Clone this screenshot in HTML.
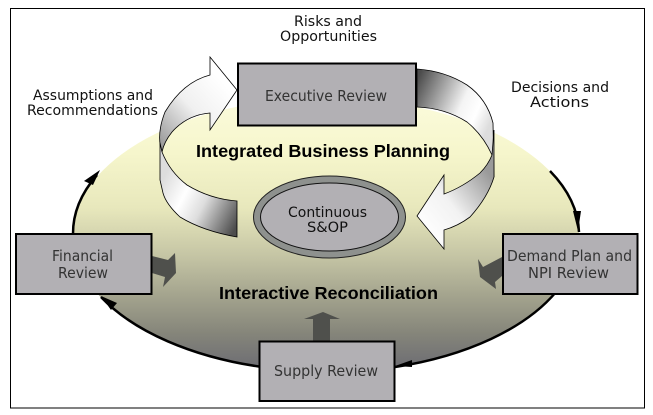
<!DOCTYPE html>
<html><head><meta charset="utf-8"><style>
html,body{margin:0;padding:0;background:#fff}
svg{display:block}
.t{font-family:"DejaVu Sans","Liberation Sans",sans-serif;font-size:14px;fill:#111}
.l{font-family:"DejaVu Sans","Liberation Sans",sans-serif;font-size:15px;fill:#333}
.b{font-family:"Liberation Sans",sans-serif;font-weight:bold;font-size:17.5px;fill:#000}
</style></head><body>
<svg width="653" height="415" viewBox="0 0 653 415" xmlns="http://www.w3.org/2000/svg">
<defs>
<linearGradient id="e" x1="0" y1="0" x2="0" y2="1">
<stop offset="0" stop-color="#fbfbdc"/><stop offset=".2" stop-color="#f6f6cc"/><stop offset=".4" stop-color="#e8e8bc"/><stop offset=".58" stop-color="#c4c4a4"/><stop offset=".72" stop-color="#a4a48e"/><stop offset=".86" stop-color="#85857a"/><stop offset="1" stop-color="#6a6a72"/>
</linearGradient>
<linearGradient id="g1" gradientUnits="userSpaceOnUse" x1="417" y1="80" x2="494" y2="115">
<stop offset="0" stop-color="#4c4c4c"/><stop offset=".6" stop-color="#f4f4f4"/><stop offset=".8" stop-color="#fff"/><stop offset="1" stop-color="#ddd"/>
</linearGradient>
<linearGradient id="g2" gradientUnits="userSpaceOnUse" x1="425" y1="235" x2="494" y2="180">
<stop offset="0" stop-color="#fff"/><stop offset=".45" stop-color="#f2f2f2"/><stop offset="1" stop-color="#9a9a9a"/>
</linearGradient>
<linearGradient id="g3" gradientUnits="userSpaceOnUse" x1="225" y1="85" x2="160" y2="145">
<stop offset="0" stop-color="#fff"/><stop offset=".45" stop-color="#f0f0f0"/><stop offset="1" stop-color="#999"/>
</linearGradient>
<linearGradient id="g4" gradientUnits="userSpaceOnUse" x1="160" y1="185" x2="237" y2="225">
<stop offset="0" stop-color="#ddd"/><stop offset=".3" stop-color="#fff"/><stop offset=".55" stop-color="#ddd"/><stop offset="1" stop-color="#4c4c4c"/>
</linearGradient>
</defs>
<rect width="653" height="415" fill="#fff"/>
<rect x="10.5" y="8.5" width="634" height="399.5" fill="#fff" stroke="#000" stroke-width="1"/>
<ellipse cx="326" cy="235" rx="253" ry="137" fill="url(#e)"/>

<!-- black perimeter arcs -->
<g fill="none" stroke="#000" stroke-width="2.5">
<path d="M73 234 A253 137 0 0 1 97 175"/>
<path d="M101 297 A253 137 0 0 0 262 367"/>
<path d="M395 367 A253 137 0 0 0 556 292"/>
<path d="M550 171 A253 137 0 0 1 579 232"/>
</g>
<g fill="#000">
<polygon points="100,170 93,185 84,181"/>
<polygon points="101,296 117,303 111,310"/>
<polygon points="395,366 412,360 412,367"/>
<polygon points="578,231 573,211 581,211"/>
</g>

<!-- right curved arrow -->
<path d="M417 69 Q445 71 467 85 Q487 99 493 123 L494 177 L492 155 Q483 135 467 122 Q445 108 417 107 Z" fill="url(#g1)" stroke="#000" stroke-width=".8"/>
<path d="M492 155 L494 130 L494 177 Q488 197 470 217 Q458 226 444 230 L444 249 L417 216 L444 175 L444 194 Q463 187 480 173 Q488 165 492 155 Z" fill="url(#g2)" stroke="#000" stroke-width=".8"/>

<!-- left curved arrow -->
<path d="M162 152 Q156 135 165 112 Q183 82 210 75 L210 57 L237 90 L210 130 L210 113 Q187 115 172 132 Q164 142 162 152 Z" fill="url(#g3)" stroke="#000" stroke-width=".8"/>
<path d="M160 143 L162 152 Q170 172 187 185 Q210 199 237 201 L237 237 Q203 231 180 217 Q166 204 163 193 L160 180 Z" fill="url(#g4)" stroke="#000" stroke-width=".8"/>

<!-- central ellipse -->
<ellipse cx="329.5" cy="217" rx="76" ry="41" fill="#8e918e" stroke="#222" stroke-width="1"/>
<ellipse cx="329.5" cy="217" rx="69" ry="34" fill="#b2b0b4" stroke="#111" stroke-width="1"/>

<!-- small block arrows -->
<polygon points="152,256 168,260 175,253 176,273 163,287 165,277 152,273" fill="#4f504c"/>
<polygon points="502,257 483,267 478,259 480,277 496,289 495,282 502,276" fill="#4f504c"/>
<polygon points="313,341 313,319 304,319 323,312 340,319 330,319 330,341" fill="#4f504c"/>

<!-- boxes -->
<g fill="#b2b0b4" stroke="#000" stroke-width="2">
<rect x="238" y="63.5" width="178" height="62"/>
<rect x="16" y="234" width="135.5" height="60"/>
<rect x="503" y="234" width="134.5" height="60"/>
<rect x="259.5" y="341.5" width="135" height="59.5"/>
</g>

<!-- labels -->
<text class="t" x="294" y="26" textLength="68" lengthAdjust="spacingAndGlyphs">Risks and</text>
<text class="t" x="280" y="41" textLength="97" lengthAdjust="spacingAndGlyphs">Opportunities</text>
<text class="t" x="33" y="100" textLength="120" lengthAdjust="spacingAndGlyphs">Assumptions and</text>
<text class="t" x="27" y="115" textLength="131" lengthAdjust="spacingAndGlyphs">Recommendations</text>
<text class="t" x="511" y="92" textLength="98" lengthAdjust="spacingAndGlyphs">Decisions and</text>
<text class="t" x="530" y="107" textLength="59" lengthAdjust="spacingAndGlyphs">Actions</text>
<text class="l" x="265" y="101" textLength="122" lengthAdjust="spacingAndGlyphs">Executive Review</text>
<text class="b" x="196" y="157" textLength="254" lengthAdjust="spacingAndGlyphs">Integrated Business Planning</text>
<text class="b" x="219" y="299" textLength="219" lengthAdjust="spacingAndGlyphs">Interactive Reconciliation</text>
<text class="t" x="288" y="217" textLength="79" lengthAdjust="spacingAndGlyphs">Continuous</text>
<text class="t" x="307" y="232" textLength="41" lengthAdjust="spacingAndGlyphs">S&amp;OP</text>
<text class="l" x="52" y="261" textLength="61" lengthAdjust="spacingAndGlyphs">Financial</text>
<text class="l" x="58" y="278" textLength="50" lengthAdjust="spacingAndGlyphs">Review</text>
<text class="l" x="507" y="261" textLength="125" lengthAdjust="spacingAndGlyphs">Demand Plan and</text>
<text class="l" x="528" y="278" textLength="81" lengthAdjust="spacingAndGlyphs">NPI Review</text>
<text class="l" x="274" y="376" textLength="104" lengthAdjust="spacingAndGlyphs">Supply Review</text>
</svg>
</body></html>
